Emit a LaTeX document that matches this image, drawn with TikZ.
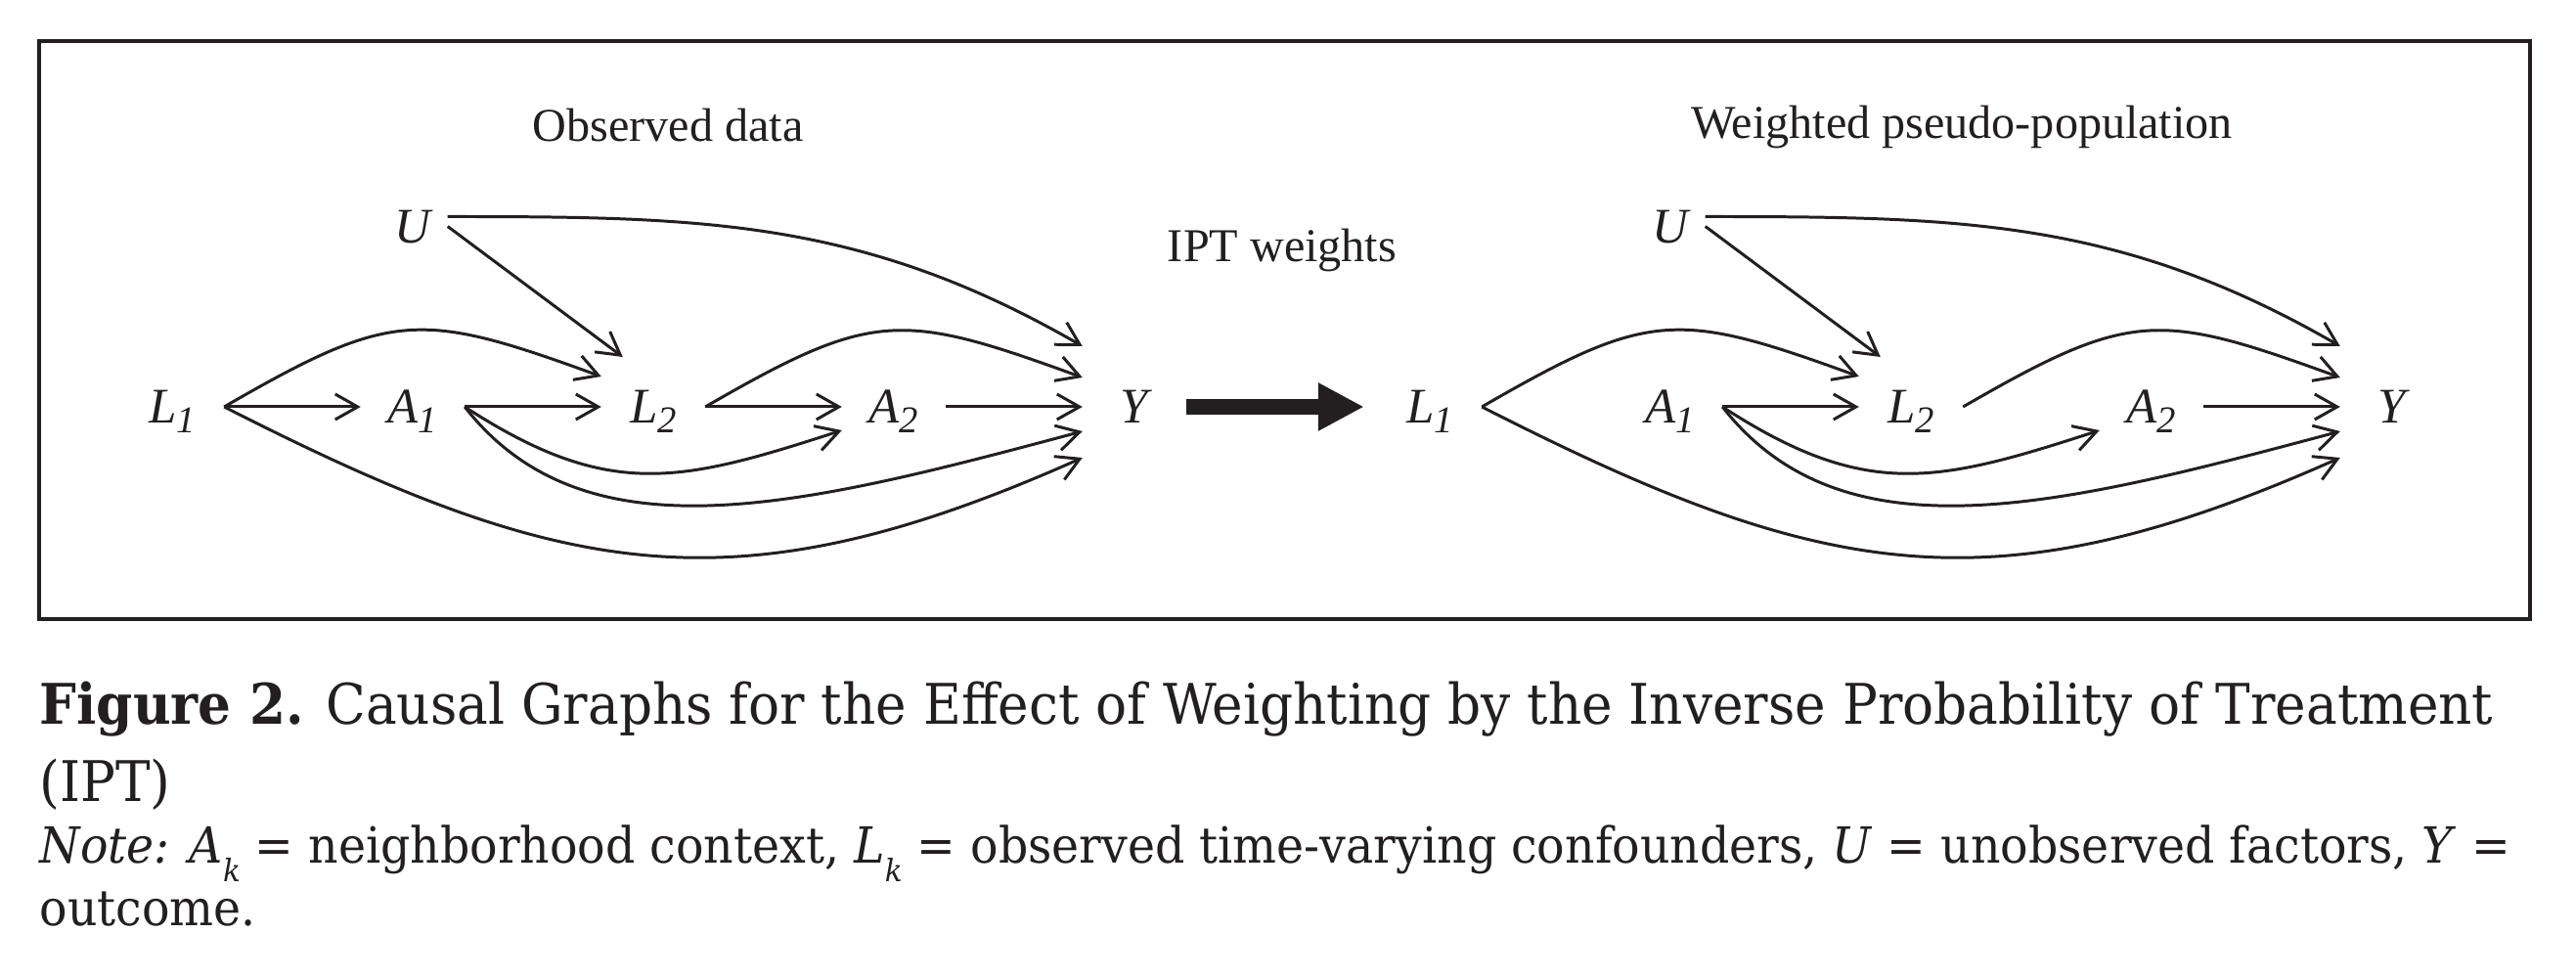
\documentclass[tikz,border=0pt]{standalone}
\usepackage{fontspec}
\setmainfont{Liberation Serif}
\newfontfamily\capfont[FakeStretch=0.93]{DejaVu Serif}
\usepackage{tikz}
\usetikzlibrary{positioning, arrows.meta}
\definecolor{ink}{HTML}{231F20}
\tikzstyle{var} = [rectangle, minimum width=1.05cm, minimum height=0.62cm, inner sep=0pt, text height=0.34cm, text depth=0pt, font=\fontsize{14.5}{17}\selectfont\itshape]
\tikzstyle{varu} = [var, minimum width=0.7cm]
\tikzstyle{title} = [font=\fontsize{13.7}{16}\selectfont]
\tikzstyle{arrow} = [line width=0.85pt, ->, >={Straight Barb[length=2.3mm, width=2.6mm]}]
\tikzstyle{bigarrow} = [line width=0.16cm, -{Triangle[length=4.7mm, width=4.6mm]}, shorten >=1.4mm]
\tikzstyle{caption} = [anchor=base west, inner sep=0pt, font=\capfont\fontsize{16.3}{20}\selectfont]
\tikzstyle{note} = [anchor=base west, inner sep=0pt, font=\capfont\fontsize{14.5}{17}\selectfont]
\newcommand{\vsub}[2]{#1\raisebox{-0.1cm}{\fontsize{11}{12}\selectfont #2}}
\newcommand{\ksub}[1]{\textit{#1}\raisebox{-0.19cm}{\fontsize{9}{10}\selectfont\textit{k}}}
\def\gap{2.46}

\begin{document}
\begin{tikzpicture}[node distance=\gap cm, color=ink]
\useasboundingbox (0,0) rectangle (26.34,-10);
\draw [line width=1pt] (0.40,-0.42) rectangle (25.87,-6.33);

\node (L1) [var] at (1.76,-4.16) {\vsub{L}{1}};
\node (A1) [var, right of=L1] {\vsub{A}{1}};
\node (L2) [var, right of=A1] {\vsub{L}{2}};
\node (A2) [var, right of=L2] {\vsub{A}{2}};
\node (Y) [var, right of=A2] {Y};
\node (U) [varu, above of=A1, yshift=-0.615cm] {U};
\node (obs) [title, above of=L2, yshift=0.42cm, xshift=0.15cm] {Observed data};

\draw [arrow] (L1) -- (A1);
\draw [arrow] (A1) -- (L2);
\draw [arrow] (L2) -- (A2);
\draw [arrow] (A2) -- (Y);
\draw [arrow] ([yshift=1mm]U.east) to[out=0, in=150, distance=2.6cm] ([yshift=6.2mm]Y.west);
\draw [arrow] (U.east) -- ([xshift=2.2mm, yshift=5.1mm]L2.west);
\draw [arrow] (L1.east) to[out=30, in=160, distance=1.98cm] ([yshift=3.1mm]L2.west);
\draw [arrow] (L2.east) to[out=30, in=160, distance=1.98cm] ([yshift=3mm]Y.west);
\draw [arrow] (A1.east) to[out=-33, in=198, distance=1.75cm] ([yshift=-2.4mm]A2.west);
\draw [arrow] (A1.east) to[out=-52, in=195, out distance=2cm, in distance=3cm] ([yshift=-2.5mm]Y.west);
\draw [arrow] (L1.east) to[out=-27, in=204, distance=3.9cm] ([yshift=-5.2mm]Y.west);

\node (L1r) [var, right of=Y, xshift=0.56cm] {\vsub{L}{1}};
\draw [bigarrow] (Y) -- node[title, anchor=south, yshift=1.18cm] {IPT weights} (L1r);

\node (A1r) [var, right of=L1r] {\vsub{A}{1}};
\node (L2r) [var, right of=A1r] {\vsub{L}{2}};
\node (A2r) [var, right of=L2r] {\vsub{A}{2}};
\node (Yr) [var, right of=A2r] {Y};
\node (Ur) [varu, above of=A1r, yshift=-0.615cm] {U};
\node (wpp) [title, above of=L2r, yshift=0.40cm, xshift=0.52cm] {Weighted pseudo-population};

\draw [arrow] (A1r) -- (L2r);
\draw [arrow] (A2r) -- (Yr);
\draw [arrow] ([yshift=1mm]Ur.east) to[out=0, in=150, distance=2.6cm] ([yshift=6.2mm]Yr.west);
\draw [arrow] (Ur.east) -- ([xshift=2.2mm, yshift=5.1mm]L2r.west);
\draw [arrow] (L1r.east) to[out=30, in=160, distance=1.98cm] ([yshift=3.1mm]L2r.west);
\draw [arrow] (L2r.east) to[out=30, in=160, distance=1.98cm] ([yshift=3mm]Yr.west);
\draw [arrow] (A1r.east) to[out=-33, in=198, distance=1.75cm] ([yshift=-2.4mm]A2r.west);
\draw [arrow] (A1r.east) to[out=-52, in=195, out distance=2cm, in distance=3cm] ([yshift=-2.5mm]Yr.west);
\draw [arrow] (L1r.east) to[out=-27, in=204, distance=3.9cm] ([yshift=-5.2mm]Yr.west);

\node (capA) [caption] at (0.40,-7.41) {\textbf{Figure 2.} Causal Graphs for the Effect of Weighting by the Inverse Probability of Treatment};
\node (capB) [caption] at (0.40,-8.20) {(IPT)};
\node (noteA) [note] at (0.40,-8.83) {\textit{Note:} \ksub{A} = neighborhood context, \ksub{L} = observed time-varying confounders, \textit{U} = unobserved factors, \textit{Y} =};
\node (noteB) [note] at (0.40,-9.47) {outcome.};
\end{tikzpicture}
\end{document}
